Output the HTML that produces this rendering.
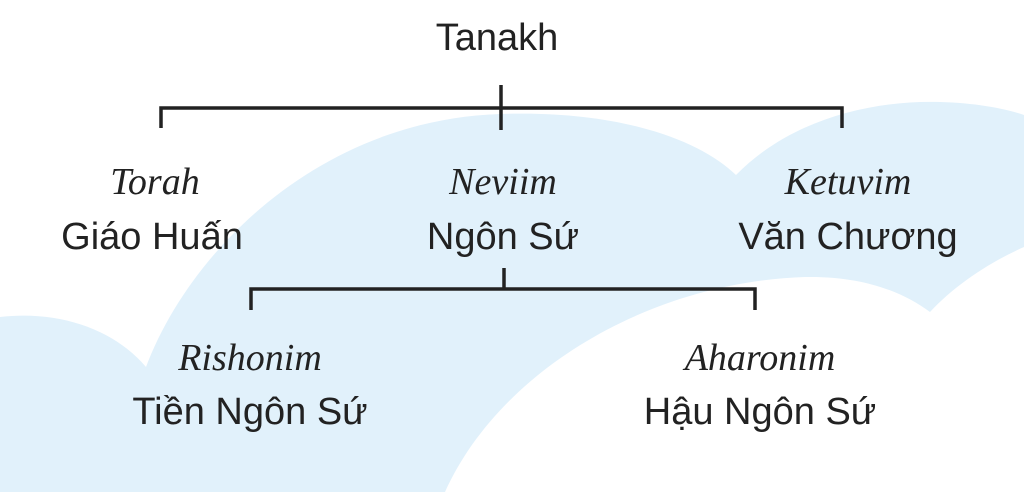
<!DOCTYPE html>
<html><head><meta charset="utf-8"><style>
html,body{margin:0;padding:0;width:1024px;height:492px;overflow:hidden;background:#fff}
.t{position:absolute;transform:translateX(-50%);white-space:nowrap;color:#222;line-height:1}
.s{font-family:"Liberation Sans",sans-serif;font-size:38px}
.i{font-family:"Liberation Serif",serif;font-style:italic;font-size:38px}
</style></head><body>
<svg width="1024" height="492" style="position:absolute;left:0;top:0">
<path d="M0,317 C60,310 115,330 146,367 C190,250 320,120 500,114 C620,110 700,140 736,175 C790,120 870,100 940,102 C980,103 1010,110 1024,115 L1024,247 C990,262 955,285 930,312 C900,290 860,276 805,277 C650,282 500,370 445,492 L0,492 Z" fill="#e1f1fb"/>
<g stroke="#222" stroke-width="3.5" fill="none">
<path d="M161,128 V108 H842 V128"/><path d="M501,85 V130"/>
<path d="M251,310 V289 H755 V310"/><path d="M504,268 V289"/>
</g></svg>
<div class="t s" style="left:497px;top:19px">Tanakh</div>
<div class="t i" style="left:155px;top:163px">Torah</div>
<div class="t s" style="left:152px;top:218px">Giáo Huấn</div>
<div class="t i" style="left:503px;top:163px">Neviim</div>
<div class="t s" style="left:503px;top:218px">Ngôn Sứ</div>
<div class="t i" style="left:848px;top:163px">Ketuvim</div>
<div class="t s" style="left:848px;top:218px">Văn Chương</div>
<div class="t i" style="left:250px;top:339px">Rishonim</div>
<div class="t s" style="left:250px;top:393px">Tiền Ngôn Sứ</div>
<div class="t i" style="left:760px;top:339px">Aharonim</div>
<div class="t s" style="left:760px;top:393px">Hậu Ngôn Sứ</div>
</body></html>
